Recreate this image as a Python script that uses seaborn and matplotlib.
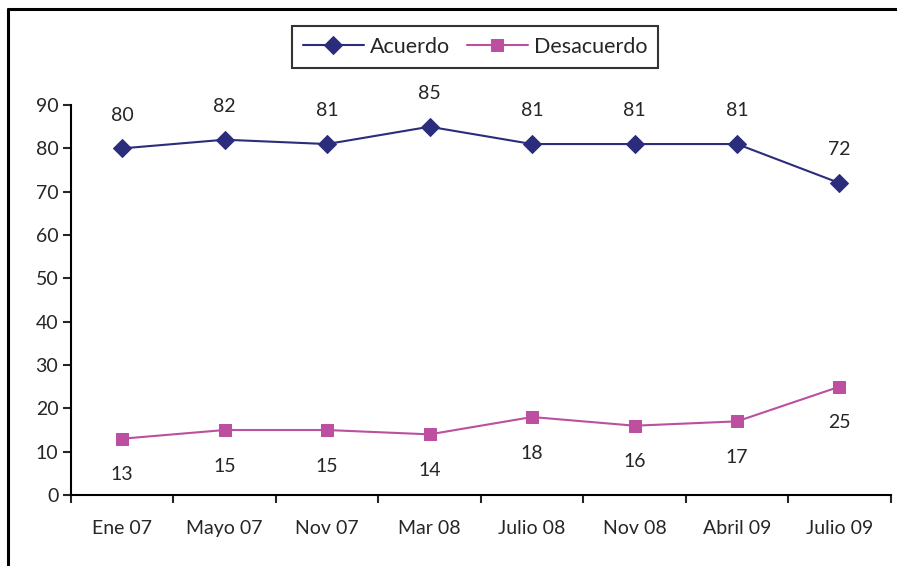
import matplotlib
matplotlib.use("Agg")
import matplotlib.pyplot as plt
import seaborn as sns
import pandas as pd
from matplotlib.lines import Line2D

periodos = ["Ene 07", "Mayo 07", "Nov 07", "Mar 08", "Julio 08", "Nov 08", "Abril 09", "Julio 09"]
acuerdo = [80, 82, 81, 85, 81, 81, 81, 72]
desacuerdo = [13, 15, 15, 14, 18, 16, 17, 25]

df = pd.DataFrame({
    "pos": [i + 0.5 for i in range(len(periodos))] * 2,
    "valor": acuerdo + desacuerdo,
    "serie": ["Acuerdo"] * len(periodos) + ["Desacuerdo"] * len(periodos),
})

sns.set_style("white")
plt.rcParams['font.family'] = ['Lato', 'DejaVu Sans']

colores = {"Acuerdo": "#2B2D7C", "Desacuerdo": "#BC4FA0"}
marcas = {"Acuerdo": "D", "Desacuerdo": "s"}

fig = plt.figure(figsize=(8.97, 5.66), dpi=100)
ax = fig.add_axes([0.079, 0.1254, 0.914, 0.689])

for serie in ["Acuerdo", "Desacuerdo"]:
    sub = df[df["serie"] == serie]
    sns.lineplot(data=sub, x="pos", y="valor", ax=ax, color=colores[serie],
                 marker=marcas[serie], markersize=9 if serie == "Acuerdo" else 8.5,
                 markeredgecolor=colores[serie], linewidth=1.5, label=serie)

# etiquetas de datos
for i, v in enumerate(acuerdo):
    ax.annotate(str(v), (i + 0.5, v), xytext=(0, 24), textcoords="offset points",
                ha="center", va="center", fontsize=14)
for i, v in enumerate(desacuerdo):
    ax.annotate(str(v), (i + 0.5, v), xytext=(0, -26), textcoords="offset points",
                ha="center", va="center", fontsize=14)

ax.set_xlim(0, len(periodos))
ax.set_ylim(0, 90)
ax.set_yticks(range(0, 91, 10))
ax.set_xticks(range(0, len(periodos) + 1))
ax.set_xticklabels([])
ax.set_xticks([i + 0.5 for i in range(len(periodos))], minor=True)
ax.set_xticklabels(periodos, minor=True)
ax.tick_params(axis="x", which="minor", length=0, pad=18, labelsize=14)
ax.tick_params(axis="x", which="major", length=6, width=1.5, direction="out", bottom=True)
ax.tick_params(axis="y", length=6, width=1.5, direction="out", left=True, labelsize=14, pad=3)
ax.set_xlabel("")
ax.set_ylabel("")

for s in ["top", "right"]:
    ax.spines[s].set_visible(False)
for s in ["left", "bottom"]:
    ax.spines[s].set_color("black")
    ax.spines[s].set_linewidth(1.5)

ax.legend(loc="center", bbox_to_anchor=(0.53, 0.917), bbox_transform=fig.transFigure,
          ncol=2, frameon=True, fancybox=False, edgecolor="black", fontsize=15.5,
          handlelength=2.8, columnspacing=0.8, handletextpad=0.3,
          borderpad=0.5).get_frame().set_linewidth(1.5)

# marco del gráfico (recortado a derecha y abajo)
fig.add_artist(Line2D([8 / 897, 1.0], [1 - 9 / 566, 1 - 9 / 566], color="black", linewidth=2.2))
fig.add_artist(Line2D([8 / 897, 8 / 897], [0.0, 1 - 9 / 566], color="black", linewidth=2.2))

fig.savefig("out.png", dpi=100)
